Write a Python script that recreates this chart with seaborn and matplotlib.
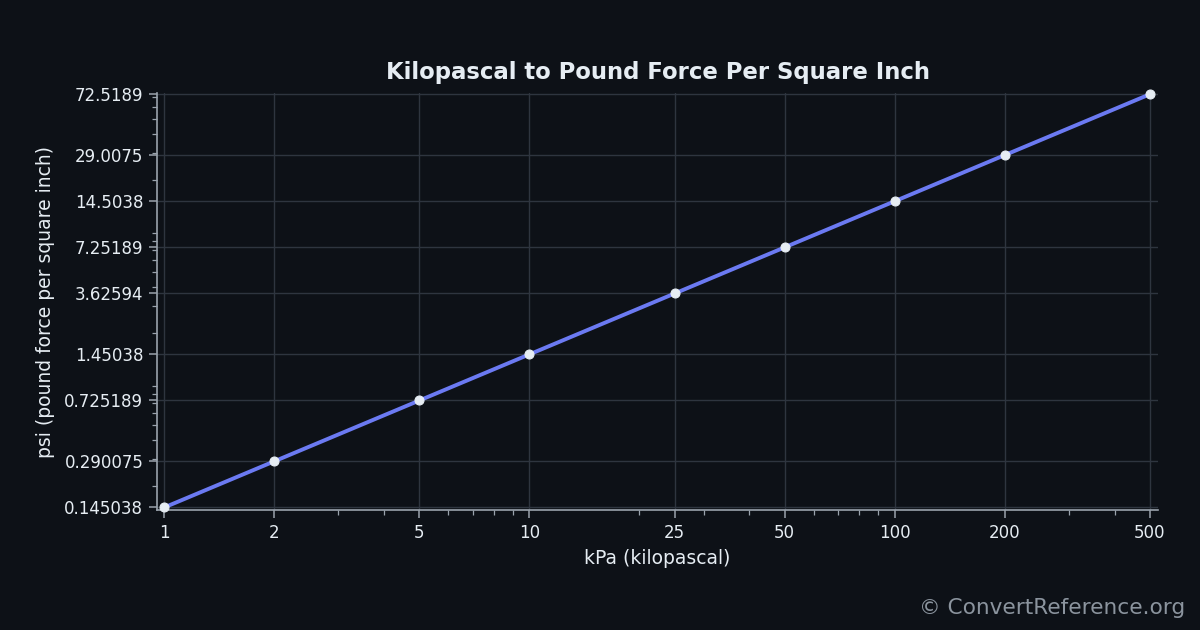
import matplotlib
matplotlib.use("Agg")
import pandas as pd
import matplotlib.pyplot as plt
import matplotlib.ticker as mticker
import seaborn as sns

# Data
kpa = [1, 2, 5, 10, 25, 50, 100, 200, 500]
psi = [0.145038, 0.290075, 0.725189, 1.45038, 3.62594, 7.25189, 14.5038, 29.0075, 72.5189]
x_labels = ["1", "2", "5", "10", "25", "50", "100", "200", "500"]
y_labels = ["0.145038", "0.290075", "0.725189", "1.45038", "3.62594",
            "7.25189", "14.5038", "29.0075", "72.5189"]

df = pd.DataFrame({"kPa": kpa, "psi": psi})

bg = "#0d1117"
fg = "#e6edf3"
grid_c = "#2e353f"
spine_c = "#9aa3ad"

sns.set_theme(style="dark")
plt.rcParams.update({
    "figure.facecolor": bg,
    "axes.facecolor": bg,
    "text.color": fg,
    "axes.labelcolor": fg,
    "xtick.color": spine_c,
    "ytick.color": spine_c,
    "xtick.labelcolor": fg,
    "ytick.labelcolor": fg,
})
plt.rcParams["font.family"] = ["DejaVu Sans"]

fig = plt.figure(figsize=(12, 6.3), dpi=100)
ax = fig.add_axes([0.131, 0.190, 0.834, 0.662])

sns.lineplot(data=df, x="kPa", y="psi", ax=ax, color="#6b7af2", linewidth=2.8,
             marker="o", markersize=6.5, markerfacecolor=fg, markeredgecolor=fg,
             zorder=3, clip_on=False)

ax.set_xscale("log")
ax.set_yscale("log")
ax.set_xlim(0.957, 526)
ax.set_ylim(0.139, 73.6)

ax.xaxis.set_major_locator(mticker.FixedLocator(kpa))
ax.xaxis.set_major_formatter(mticker.FixedFormatter(x_labels))
ax.yaxis.set_major_locator(mticker.FixedLocator(psi))
ax.yaxis.set_major_formatter(mticker.FixedFormatter(y_labels))
ax.xaxis.set_minor_locator(mticker.LogLocator(base=10, subs=range(2, 10)))
ax.yaxis.set_minor_locator(mticker.LogLocator(base=10, subs=range(2, 10)))
ax.xaxis.set_minor_formatter(mticker.NullFormatter())
ax.yaxis.set_minor_formatter(mticker.NullFormatter())

ax.tick_params(axis="both", which="major", length=6, width=1.1, labelsize=12, pad=4,
               bottom=True, left=True)
ax.tick_params(axis="both", which="minor", length=3.5, width=0.9, bottom=True, left=True)

ax.grid(True, which="major", color=grid_c, linewidth=1)
ax.grid(False, which="minor")

for side in ["top", "right"]:
    ax.spines[side].set_visible(False)
for side in ["left", "bottom"]:
    ax.spines[side].set_visible(True)
    ax.spines[side].set_color(spine_c)
    ax.spines[side].set_linewidth(1.2)

ax.set_title("Kilopascal to Pound Force Per Square Inch", fontsize=16.4, fontweight="bold",
             color=fg, pad=10)
ax.set_xlabel("kPa (kilopascal)", fontsize=13.5, labelpad=5)
ax.set_ylabel("psi (pound force per square inch)", fontsize=13.5, labelpad=7)

fig.text(0.988, 0.035, "\u00a9 ConvertReference.org", ha="right", va="center",
         fontsize=15.6, color="#8b949e")

fig.savefig("out.png", dpi=100, facecolor=bg)
